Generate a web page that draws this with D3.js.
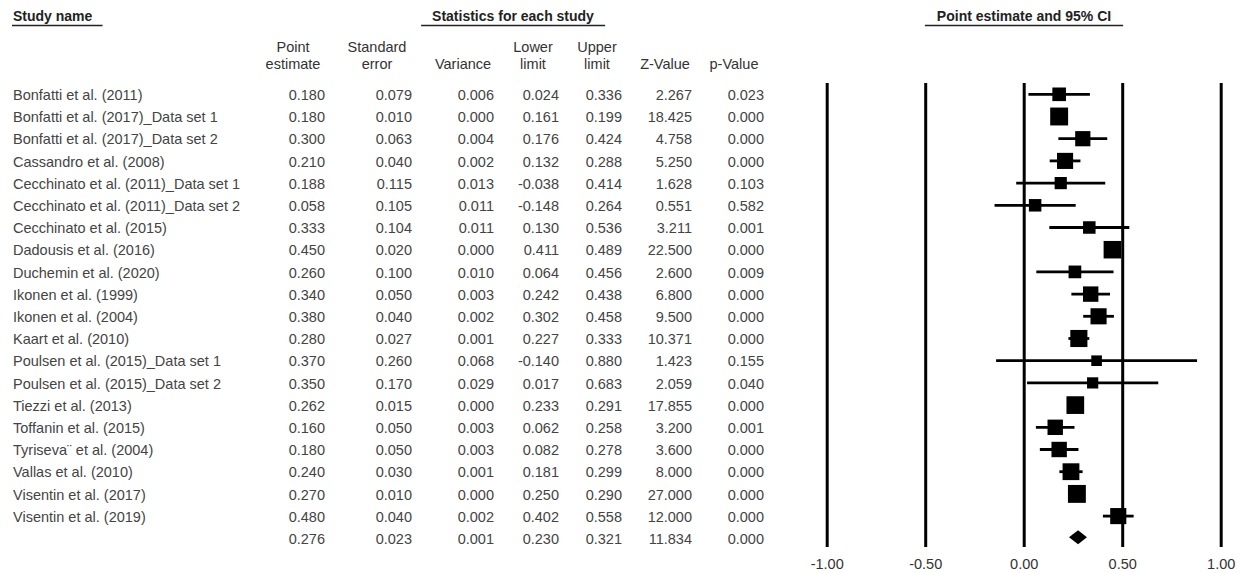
<!DOCTYPE html>
<html>
<head>
<meta charset="utf-8">
<script src="https://cdn.jsdelivr.net/npm/d3@7"></script>
<style>
  body { margin: 0; background: #fff; }
  text { font-family: Arial, "Liberation Sans", sans-serif; fill: #444; }
</style>
</head>
<body>
<svg id="chart" width="1241" height="573"></svg>
<script>
// table data
const studies = [
  "Bonfatti et al. (2011)", "Bonfatti et al. (2017)_Data set 1", "Bonfatti et al. (2017)_Data set 2",
  "Cassandro et al. (2008)", "Cecchinato et al. (2011)_Data set 1", "Cecchinato et al. (2011)_Data set 2",
  "Cecchinato et al. (2015)", "Dadousis et al. (2016)", "Duchemin et al. (2020)", "Ikonen et al. (1999)",
  "Ikonen et al. (2004)", "Kaart et al. (2010)", "Poulsen et al. (2015)_Data set 1",
  "Poulsen et al. (2015)_Data set 2", "Tiezzi et al. (2013)", "Toffanin et al. (2015)",
  "Tyriseva¨ et al. (2004)", "Vallas et al. (2010)", "Visentin et al. (2017)", "Visentin et al. (2019)"
];
const pointEst = [0.180, 0.180, 0.300, 0.210, 0.188, 0.058, 0.333, 0.450, 0.260, 0.340,
                  0.380, 0.280, 0.370, 0.350, 0.262, 0.160, 0.180, 0.240, 0.270, 0.480];
const stdErr = [0.079, 0.010, 0.063, 0.040, 0.115, 0.105, 0.104, 0.020, 0.100, 0.050,
                0.040, 0.027, 0.260, 0.170, 0.015, 0.050, 0.050, 0.030, 0.010, 0.040];
const variance = [0.006, 0.000, 0.004, 0.002, 0.013, 0.011, 0.011, 0.000, 0.010, 0.003,
                  0.002, 0.001, 0.068, 0.029, 0.000, 0.003, 0.003, 0.001, 0.000, 0.002];
const lowerLimit = [0.024, 0.161, 0.176, 0.132, -0.038, -0.148, 0.130, 0.411, 0.064, 0.242,
                    0.302, 0.227, -0.140, 0.017, 0.233, 0.062, 0.082, 0.181, 0.250, 0.402];
const upperLimit = [0.336, 0.199, 0.424, 0.288, 0.414, 0.264, 0.536, 0.489, 0.456, 0.438,
                    0.458, 0.333, 0.880, 0.683, 0.291, 0.258, 0.278, 0.299, 0.290, 0.558];
const zValue = [2.267, 18.425, 4.758, 5.250, 1.628, 0.551, 3.211, 22.500, 2.600, 6.800,
                9.500, 10.371, 1.423, 2.059, 17.855, 3.200, 3.600, 8.000, 27.000, 12.000];
const pValue = [0.023, 0.000, 0.000, 0.000, 0.103, 0.582, 0.001, 0.000, 0.009, 0.000,
                0.000, 0.000, 0.155, 0.040, 0.000, 0.001, 0.000, 0.000, 0.000, 0.000];
// relative weights (%)
const relWeight = [3.6, 7.9, 5.2, 6.1, 2.2, 2.5, 2.5, 7.5, 2.7, 5.4,
                   6.1, 7.1, 0.6, 1.2, 7.7, 5.4, 5.4, 6.8, 7.9, 6.1];
// summary row
const summary = { point: 0.276, se: 0.023, variance: 0.001, lower: 0.230, upper: 0.321, z: 11.834, p: 0.000 };
const axisTicks = [-1, -0.5, 0, 0.5, 1];

const svg = d3.select("#chart");

let rows = studies.map((s, i) => ({
  name: s, point: pointEst[i], se: stdErr[i], variance: variance[i],
  lower: lowerLimit[i], upper: upperLimit[i], z: zValue[i], p: pValue[i], w: relWeight[i]
}));
let allRows = rows.concat([Object.assign({ name: "", summary: true }, summary)]);

const y = d3.scaleLinear().domain([0, allRows.length - 1]).range([94.8, 538.8]);
const x = d3.scaleLinear().domain([-1, 1]).range([826.7, 1220.7]);
const boxSize = d3.scaleLinear().domain([0, 8]).range([10, 18]);

// section titles with underline
function title(txt, xPos, anchor, padL, padR) {
  const t = svg.append("text")
    .attr("x", xPos).attr("y", 21)
    .attr("text-anchor", anchor)
    .style("font-size", "14px").style("font-weight", "bold").style("fill", "#222")
    .text(txt);
  const b = t.node().getBBox();
  svg.append("line")
    .attr("x1", b.x - padL).attr("x2", b.x + b.width + padR)
    .attr("y1", 25.5).attr("y2", 25.5)
    .attr("stroke", "#222").attr("stroke-width", 1.5);
}
title("Study name", 13, "start", 1, 10);
title("Statistics for each study", 513, "middle", 11, 11);
title("Point estimate and 95% CI", 1024, "middle", 12, 12);

// table columns
const cols = [
  { key: "point", head: ["Point", "estimate"], center: 293, right: 325 },
  { key: "se", head: ["Standard", "error"], center: 377, right: 412 },
  { key: "variance", head: ["", "Variance"], center: 463, right: 494 },
  { key: "lower", head: ["Lower", "limit"], center: 533, right: 559 },
  { key: "upper", head: ["Upper", "limit"], center: 597, right: 622 },
  { key: "z", head: ["", "Z-Value"], center: 665, right: 692 },
  { key: "p", head: ["", "p-Value"], center: 734, right: 764 }
];

cols.forEach(c => {
  c.head.forEach((h, j) => {
    if (!h) return;
    svg.append("text")
      .attr("x", c.center).attr("y", j === 0 ? 52 : 69)
      .attr("text-anchor", "middle")
      .style("font-size", "14.5px").style("fill", "#333")
      .text(h);
  });
});

const body = svg.append("g").style("font-size", "14.5px");

body.selectAll(".name").data(allRows).enter()
  .append("text").attr("class", "name")
  .attr("x", 13).attr("y", (d, i) => y(i))
  .attr("dy", "0.36em")
  .text(d => d.name);

cols.forEach(c => {
  body.selectAll(".c-" + c.key).data(allRows).enter()
    .append("text").attr("class", "c-" + c.key)
    .attr("x", c.right).attr("y", (d, i) => y(i))
    .attr("dy", "0.36em")
    .attr("text-anchor", "end")
    .text(d => d[c.key].toFixed(3));
});

// forest plot
const plotTop = 83, plotBottom = 547;
const axis = d3.axisBottom(x)
  .tickValues(axisTicks)
  .tickFormat(d => d.toFixed(2))
  .tickSize(-(plotBottom - plotTop))
  .tickPadding(12);

const ax = svg.append("g")
  .attr("transform", "translate(0," + plotBottom + ")")
  .call(axis);
ax.select(".domain").remove();
ax.selectAll(".tick line").attr("stroke", "#000").attr("stroke-width", 3);
ax.selectAll(".tick text")
  .style("font-size", "14.5px").style("fill", "#333")
  .style("font-family", "Arial, 'Liberation Sans', sans-serif");

const forest = svg.append("g");

forest.selectAll(".ci").data(rows).enter()
  .append("line").attr("class", "ci")
  .attr("x1", d => x(d.lower)).attr("x2", d => x(d.upper))
  .attr("y1", (d, i) => y(i) - 0.5).attr("y2", (d, i) => y(i) - 0.5)
  .attr("stroke", "#000").attr("stroke-width", 2.8);

forest.selectAll(".box").data(rows).enter()
  .append("rect").attr("class", "box")
  .attr("x", d => x(d.point) - boxSize(d.w) / 2)
  .attr("y", (d, i) => y(i) - 0.5 - boxSize(d.w) / 2)
  .attr("width", d => boxSize(d.w))
  .attr("height", d => boxSize(d.w))
  .attr("fill", "#000");

// summary diamond
const sy = y(allRows.length - 1) - 1.5;
forest.append("path")
  .attr("d", d3.line()([
    [x(summary.lower), sy], [x(summary.point), sy - 7],
    [x(summary.upper), sy], [x(summary.point), sy + 7]
  ]) + "Z")
  .attr("fill", "#000");
</script>
</body>
</html>
